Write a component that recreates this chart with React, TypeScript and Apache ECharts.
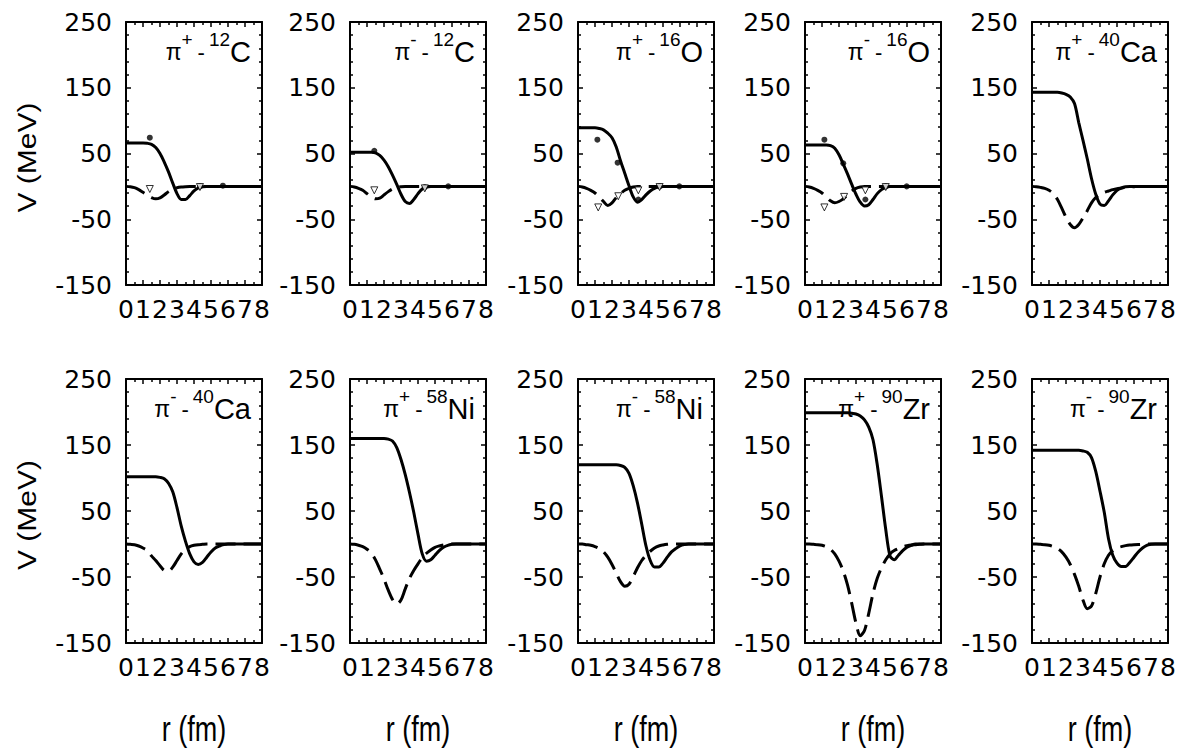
import React, { useEffect, useRef } from 'react';
import * as echarts from 'echarts';

// radius grid (fm)
const R = [0, 0.25, 0.5, 0.75, 1, 1.25, 1.5, 1.75, 2, 2.25, 2.5, 2.75, 3, 3.25, 3.5, 3.75, 4, 4.25, 4.5, 4.75, 5, 5.25, 5.5, 5.75, 6, 6.25, 6.5, 6.75, 7, 7.25, 7.5, 7.75, 8];

const X_TICKS = [0, 8, 1];
const Y_TICKS = [-150, 250, 100];

// --- pi+ 12C
const REAL_PIP_C12 = [66, 66, 66, 66, 66, 65.5, 64, 59, 50, 37, 22, 5, -11, -20, -20, -14, -7, -2.5, -0.5, 0, 0, 0, 0, 0, 0, 0, 0, 0, 0, 0, 0, 0, 0];
const IMAG_PIP_C12 = [0, -0.5, -2, -5, -9, -13, -17, -19, -17.5, -13, -8, -4, -2, -1, -0.5, -0.2, 0, 0, 0, 0, 0, 0, 0, 0, 0, 0, 0, 0, 0, 0, 0, 0, 0];
const DOTS_PIP_C12 = [[1.4, 74], [4.35, 0], [5.7, 1]];
const TRIS_PIP_C12 = [[1.4, -4], [4.35, -1]];
// --- pi- 12C
const REAL_PIM_C12 = [52, 52, 52, 52, 52, 52, 51, 47, 40, 30, 17, 3, -12, -23, -26, -20, -11, -4, -1, 0, 0, 0, 0, 0, 0, 0, 0, 0, 0, 0, 0, 0, 0];
const IMAG_PIM_C12 = [0, -1, -3, -6, -11, -16, -19, -18, -13, -8, -4, -1.5, -0.5, 0, 0, 0, 0, 0, 0, 0, 0, 0, 0, 0, 0, 0, 0, 0, 0, 0, 0, 0, 0];
const DOTS_PIM_C12 = [[1.43, 54], [4.4, -1], [5.78, 0]];
const TRIS_PIM_C12 = [[1.43, -6], [4.4, -3]];
// --- pi+ 16O
const REAL_PIP_O16 = [89, 89, 89, 89, 89, 88, 86, 81, 74, 60, 39, 20, 1, -16, -24, -20, -13, -7, -3, -1, 0, 0, 0, 0, 0, 0, 0, 0, 0, 0, 0, 0, 0];
const IMAG_PIP_O16 = [0, -1, -3, -6, -10, -16, -23, -29, -25, -17, -11, -6, -3, -1, 0, 0, 0, 0, 0, 0, 0, 0, 0, 0, 0, 0, 0, 0, 0, 0, 0, 0, 0];
const DOTS_PIP_O16 = [[1.14, 71], [2.33, 36], [3.55, -20], [4.8, 0], [5.96, 0]];
const TRIS_PIP_O16 = [[1.19, -32], [2.37, -15], [3.55, -6], [4.8, -1]];
// --- pi- 16O
const REAL_PIM_O16 = [63, 63, 63, 63, 63, 63, 62, 58, 48, 34, 19, 3, -12, -24, -30, -28, -20, -11, -5, -1.5, 0, 0, 0, 0, 0, 0, 0, 0, 0, 0, 0, 0, 0];
const IMAG_PIM_O16 = [0, -1, -3, -6, -10, -16, -22, -25, -23, -19, -13, -7, -3, -1, 0, 0, 0, 0, 0, 0, 0, 0, 0, 0, 0, 0, 0, 0, 0, 0, 0, 0, 0];
const DOTS_PIM_O16 = [[1.14, 71], [2.25, 35], [3.55, -20], [4.75, 0], [5.98, 0]];
const TRIS_PIM_O16 = [[1.14, -32], [2.3, -16], [3.55, -6], [4.75, -1]];
// --- pi+ 40Ca
const REAL_PIP_CA40 = [143, 143, 143, 143, 143, 143, 143, 142, 140, 136, 126, 97, 70, 42, 12, -12, -27, -29, -22, -13, -6, -2.5, -0.5, 0, 0, 0, 0, 0, 0, 0, 0, 0, 0];
const IMAG_PIP_CA40 = [0, -0.5, -1.5, -3, -6, -11, -20, -33, -47, -58, -63, -58, -48, -37, -25, -17, -12, -9, -7, -5, -3.5, -2.5, -1.5, -1, -0.5, 0, 0, 0, 0, 0, 0, 0, 0];
// --- pi- 40Ca
const REAL_PIM_CA40 = [102, 102, 102, 102, 102, 102, 102, 102, 101, 99, 92, 79, 55, 27, 4, -15, -27, -31, -28, -20, -12, -6, -3, -1, 0, 0, 0, 0, 0, 0, 0, 0, 0];
const IMAG_PIM_CA40 = [0, -0.5, -1, -3, -6, -10, -18, -25, -33, -40, -41, -35, -25, -15, -8, -4, -2, -1, -0.5, 0, 0, 0, 0, 0, 0, 0, 0, 0, 0, 0, 0, 0, 0];
// --- pi+ 58Ni
const REAL_PIP_NI58 = [160, 160, 160, 160, 160, 160, 160, 160, 160, 159, 156, 146, 128, 105, 78, 48, 15, -15, -26, -24, -17, -10, -5, -2, -0.5, 0, 0, 0, 0, 0, 0, 0, 0];
const IMAG_PIP_NI58 = [0, -0.5, -2, -4, -8, -14, -24, -38, -53, -70, -84, -91, -85, -68, -52, -40, -30, -21, -14, -9, -5, -3, -1.5, -0.5, 0, 0, 0, 0, 0, 0, 0, 0, 0];
// --- pi- 58Ni
const REAL_PIM_NI58 = [120, 120, 120, 120, 120, 120, 120, 120, 120, 120, 119, 116, 107, 88, 62, 30, -3, -25, -35, -35, -29, -20, -12, -7, -3, -1, 0, 0, 0, 0, 0, 0, 0];
const IMAG_PIM_NI58 = [0, 0, -1, -2, -4, -7, -12, -20, -31, -44, -57, -64, -61, -49, -36, -25, -17, -11, -6, -3, -1.5, -0.5, 0, 0, 0, 0, 0, 0, 0, 0, 0, 0, 0];
// --- pi+ 90Zr
const REAL_PIP_ZR90 = [199, 199, 199, 199, 199, 199, 199, 199, 199, 199, 199, 198, 197, 194, 188, 177, 158, 120, 72, 22, -18, -24, -17, -10, -5, -2, 0, 0, 0, 0, 0, 0, 0];
const IMAG_PIP_ZR90 = [0, 0, -0.5, -1, -2, -4, -8, -15, -26, -41, -62, -90, -120, -139, -131, -105, -75, -52, -36, -24, -15, -10, -7, -4, -2.5, -1.5, -1, -0.5, 0, 0, 0, 0, 0];
// --- pi- 90Zr
const REAL_PIM_ZR90 = [142, 142, 142, 142, 142, 142, 142, 142, 142, 142, 142, 142, 141, 139, 131, 110, 80, 48, 8, -17, -29, -34, -34, -28, -20, -12, -6, -2, -0.5, 0, 0, 0, 0];
const IMAG_PIM_ZR90 = [0, 0, -0.5, -1, -2, -4, -7, -12, -20, -31, -46, -64, -85, -98, -94, -75, -50, -30, -17, -10, -6, -4, -2.5, -1.5, -1, -0.7, -0.5, -0.2, 0, 0, 0, 0, 0];

const CHARGES = ['+', '-', '+', '-', '+', '-', '+', '-', '+', '-'];
const MASSES = ['12', '12', '16', '16', '40', '40', '58', '58', '90', '90'];
const ELEMENTS = ['C', 'C', 'O', 'O', 'Ca', 'Ca', 'Ni', 'Ni', 'Zr', 'Zr'];
const REALS = [REAL_PIP_C12, REAL_PIM_C12, REAL_PIP_O16, REAL_PIM_O16, REAL_PIP_CA40, REAL_PIM_CA40, REAL_PIP_NI58, REAL_PIM_NI58, REAL_PIP_ZR90, REAL_PIM_ZR90];
const IMAGS = [IMAG_PIP_C12, IMAG_PIM_C12, IMAG_PIP_O16, IMAG_PIM_O16, IMAG_PIP_CA40, IMAG_PIM_CA40, IMAG_PIP_NI58, IMAG_PIM_NI58, IMAG_PIP_ZR90, IMAG_PIM_ZR90];
const DOTS = [DOTS_PIP_C12, DOTS_PIM_C12, DOTS_PIP_O16, DOTS_PIM_O16, [], [], [], [], [], []];
const TRIS = [TRIS_PIP_C12, TRIS_PIM_C12, TRIS_PIP_O16, TRIS_PIM_O16, [], [], [], [], [], []];

const X_NAME = 'r (fm)';
const Y_NAME = 'V (MeV)';

// layout
const PANEL_LEFT = [126, 350, 578, 805, 1032];
const PANEL_W = 136;
const ROW_TOP = [22, 379];
const ROW_H = [263, 264];

function buildOption() {
  const grid: any[] = [];
  const xAxis: any[] = [];
  const yAxis: any[] = [];
  const series: any[] = [];
  const graphic: any[] = [];

  const axisLine = { show: true, onZero: false, lineStyle: { color: '#000', width: 2 } };
  const tickStyle = { color: '#000', width: 1.5 };

  for (let i = 0; i < 10; i++) {
    const row = Math.floor(i / 5);
    const col = i % 5;
    const left = PANEL_LEFT[col];
    const top = ROW_TOP[row];
    const h = ROW_H[row];
    grid.push({ left, top, width: PANEL_W, height: h, containLabel: false });

    const xBase = {
      gridIndex: i, type: 'value', min: X_TICKS[0], max: X_TICKS[1], interval: X_TICKS[2],
      axisLine, splitLine: { show: false },
      axisTick: { show: true, inside: true, length: 5, lineStyle: tickStyle },
      minorTick: { show: true, splitNumber: 2, length: 3, lineStyle: tickStyle },
    };
    xAxis.push({ ...xBase, position: 'bottom',
      axisLabel: { show: true, fontSize: 25, fontFamily: 'DejaVu Sans', color: '#000', margin: 12, hideOverlap: false } });
    xAxis.push({ ...xBase, position: 'top', axisLabel: { show: false } });

    const yBase = {
      gridIndex: i, type: 'value', min: Y_TICKS[0], max: Y_TICKS[1], interval: Y_TICKS[2],
      axisLine, splitLine: { show: false },
      axisTick: { show: true, inside: true, length: 5, lineStyle: tickStyle },
      minorTick: { show: true, splitNumber: 5, length: 3, lineStyle: tickStyle },
    };
    yAxis.push({ ...yBase, position: 'left',
      axisLabel: { show: true, fontSize: 25, fontFamily: 'DejaVu Sans', color: '#000', margin: 14 } });
    yAxis.push({ ...yBase, position: 'right', axisLabel: { show: false } });

    const xi = 2 * i;
    series.push({
      type: 'line', xAxisIndex: xi, yAxisIndex: xi, silent: true,
      data: R.map((r, k) => [r, REALS[i][k]]),
      showSymbol: false, smooth: 0.3,
      lineStyle: { color: '#000', width: 3 }, z: 3,
    });
    series.push({
      type: 'line', xAxisIndex: xi, yAxisIndex: xi, silent: true,
      data: R.map((r, k) => [r, IMAGS[i][k]]),
      showSymbol: false, smooth: 0.3,
      lineStyle: { color: '#000', width: 3, type: [20, 8] }, z: 3,
    });
    if (DOTS[i].length) {
      series.push({
        type: 'scatter', xAxisIndex: xi, yAxisIndex: xi, silent: true,
        data: DOTS[i], symbol: 'circle', symbolSize: 6,
        itemStyle: { color: '#000' }, z: 4,
      });
    }
    if (TRIS[i].length) {
      series.push({
        type: 'scatter', xAxisIndex: xi, yAxisIndex: xi, silent: true,
        data: TRIS[i], symbol: 'triangle', symbolRotate: 180, symbolSize: 7,
        itemStyle: { color: '#fff', borderColor: '#000', borderWidth: 1 }, z: 4,
      });
    }

    // panel title
    graphic.push({
      type: 'text', silent: true,
      x: left + PANEL_W - 11, y: top + 8,
      style: {
        text: `{pi|π}{sup|${CHARGES[i]}}{m|-}{sup|${MASSES[i]}}{el|${ELEMENTS[i]}}`,
        textAlign: 'right', textVerticalAlign: 'top',
        fill: '#000',
        rich: {
          pi: { fontSize: 23, fontFamily: 'Liberation Sans', lineHeight: 44, verticalAlign: 'middle', fill: '#000' },
          sup: { fontSize: 19, fontFamily: 'Liberation Sans', lineHeight: 16, verticalAlign: 'top', fill: '#000' },
          m: { fontSize: 22, fontFamily: 'Liberation Sans', lineHeight: 44, verticalAlign: 'middle', fill: '#000', padding: [0, 4, 0, 5] },
          el: { fontSize: 29, fontFamily: 'Liberation Sans', lineHeight: 44, verticalAlign: 'middle', fill: '#000' },
        },
      },
    });

    // x axis name
    if (row === 1) {
      graphic.push({
        type: 'text', silent: true,
        x: left + PANEL_W / 2, y: 729, scaleY: 1.3,
        style: { text: X_NAME, x: 0, y: 0, textAlign: 'center', textVerticalAlign: 'middle',
          fontSize: 27, fontFamily: 'Liberation Sans', fill: '#000' },
      });
    }
    if (col === 0) {
      graphic.push({
        type: 'text', silent: true,
        x: 27, y: top + h / 2 + 4, rotation: Math.PI / 2, scaleX: 1.2,
        style: { text: Y_NAME, x: 0, y: 0, textAlign: 'center', textVerticalAlign: 'middle',
          fontSize: 25, fontFamily: 'Liberation Sans', fill: '#000' },
      });
    }
  }

  return {
    animation: false,
    backgroundColor: '#fff',
    grid, xAxis, yAxis, series, graphic,
  };
}

export default function App() {
  const ref = useRef<HTMLDivElement>(null);
  useEffect(() => {
    if (!ref.current) return;
    const chart = echarts.init(ref.current, undefined, { renderer: 'svg' });
    chart.setOption(buildOption() as any);
    return () => chart.dispose();
  }, []);
  return (
    <div
      ref={ref}
      style={{ position: 'fixed', left: 0, top: 0, width: 1184, height: 751, background: '#fff' }}
    />
  );
}
